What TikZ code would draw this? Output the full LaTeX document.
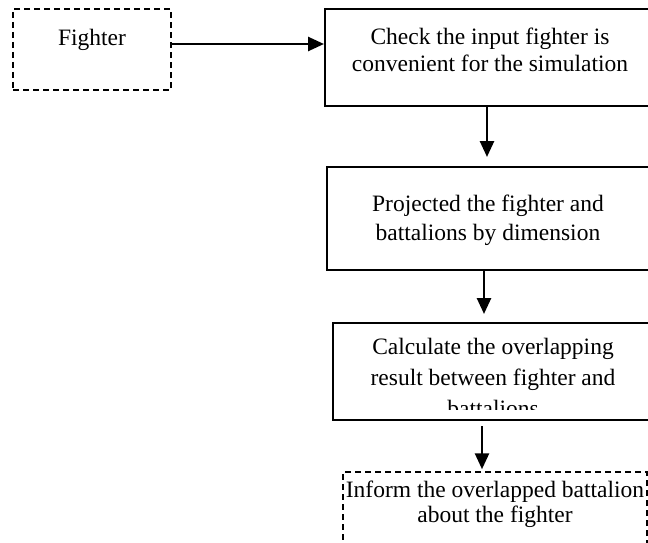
\documentclass[tikz,border=0pt]{standalone}
\usepackage{fontspec}
\setmainfont{Liberation Serif}
\usetikzlibrary{positioning,arrows.meta,calc}

\begin{document}
\begin{tikzpicture}[
          x=1pt, y=-1pt,
          box/.style={draw, line width=2pt, inner sep=0pt},
          dbox/.style={draw, line width=1.5pt, dash pattern=on 6pt off 4pt, inner sep=0pt},
          txt/.style={align=center, inner sep=0pt, font=\fontsize{23.5}{26.5}\selectfont},
          arr/.style={-{Triangle[length=16pt, width=14pt]}, line width=2.6pt}
      ]
        \clip (0,0) rectangle (648,543);
        % boxes
        \node[dbox, minimum width=158pt, minimum height=81pt] (fighter) at (92,49.5) {};
        \node[box, minimum width=330pt, minimum height=97pt] (check) at (490,57.5) {};
        \node[box, minimum width=323pt, minimum height=103pt] (project) at (488.5,218.5) {};
        \node[box, minimum width=320pt, minimum height=97pt] (calc) at (493,371.5) {};
        \node[dbox, minimum width=304pt, minimum height=100pt] (inform) at (495,522) {};
        % texts
        \node[txt] (fightertxt) at (92,40) {Fighter};
        \node[txt] (checktxt) at (490,50) {Check the input fighter is\\convenient for the simulation};
        \node[txt, font=\fontsize{23.5}{29}\selectfont] (projecttxt) at (488,220) {Projected the fighter and\\battalions by dimension};
        \begin{scope}
          \clip (333,323) rectangle (653,409);
          \node[txt, font=\fontsize{23.5}{31}\selectfont] (calctxt) at (493,377) {Calculate the overlapping\\result between fighter and\\battalions};
        \end{scope}
        \node[txt, font=\fontsize{23.5}{25}\selectfont] (informtxt) at (495,504.5) {Inform the overlapped battalion\\about the fighter};
        % arrows
        \draw[arr] (fighter.east |- 0,44) -- (check.west |- 0,44);
        \draw[arr, shorten >=9pt] (check.south -| 487,0) -- (project.north -| 487,0);
        \draw[arr, shorten >=8pt] (project.south -| 484,0) -- (calc.north -| 484,0);
        \draw[arr, shorten <=5pt, shorten >=2pt] (calc.south -| 482,0) -- (inform.north -| 482,0);
      \end{tikzpicture}
\end{document}
